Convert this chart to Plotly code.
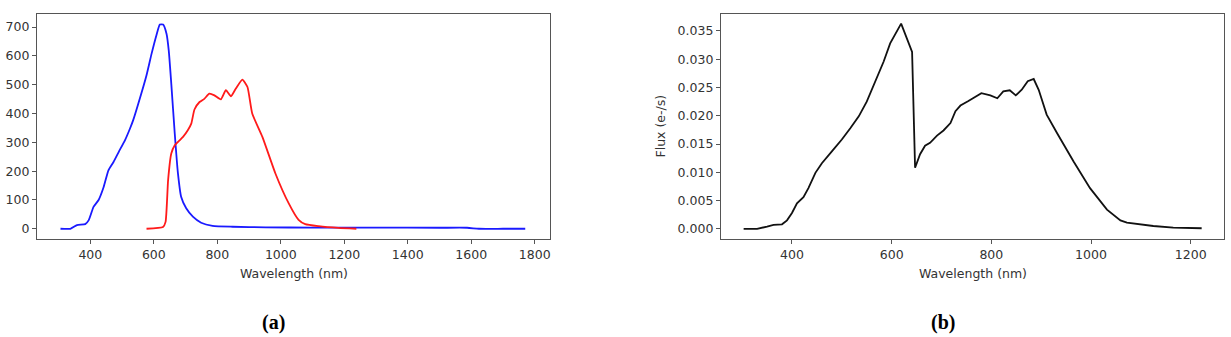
import plotly.graph_objects as go

# ---- data ----
blue_x = [306, 337, 358, 384, 395, 410, 426, 442, 457, 473, 490, 509, 525, 535, 551, 577, 593, 608, 619, 629,
          640, 647, 655, 666, 676, 686, 702, 723, 749, 785, 848, 952, 1100, 1300, 1500, 1587, 1624, 1700, 1770]
blue_y = [0, 0, 13, 16, 30, 76, 100, 145, 203, 232, 268, 307, 348, 377, 434, 533, 608, 671, 709, 709,
          677, 619, 504, 330, 192, 111, 71, 42, 21, 10, 7, 5, 4, 4, 3.5, 3.5, 0, 0, 0]

red_x = [577, 629, 637, 645, 655, 666, 681, 692, 707, 718, 728, 744, 759, 775, 791, 811, 827, 843, 858, 879,
         895, 910, 942, 983, 1025, 1056, 1077, 1119, 1181, 1238]
red_y = [0, 6, 24, 169, 261, 290, 307, 319, 342, 365, 414, 440, 451, 469, 463, 449, 481, 460, 486, 518,
         492, 400, 319, 192, 88, 31, 16, 9, 3, 0]

black_x = [303, 330, 350, 363, 380, 390, 400, 410, 423, 433, 447, 460, 480, 500, 517, 534, 550, 570, 584, 597,
           619, 641, 647, 657, 667, 677, 691, 704, 718, 728, 738, 754, 768, 780, 798, 812, 824, 837, 849, 861,
           873, 885, 895, 911, 932, 965, 998, 1032, 1059, 1072, 1125, 1165, 1222]
black_y = [0, 0, 0.0004, 0.0007, 0.0008, 0.0015, 0.0028, 0.0045, 0.0056, 0.0072, 0.0099, 0.0116, 0.0137,
           0.0158, 0.0178, 0.0199, 0.0225, 0.0266, 0.0296, 0.0328, 0.0363, 0.0313, 0.0108, 0.0132, 0.0147,
           0.0152, 0.0165, 0.0174, 0.0187, 0.0208, 0.0218, 0.0226, 0.0234, 0.0240, 0.0236, 0.0231, 0.0243,
           0.0245, 0.0236, 0.0246, 0.0261, 0.0265, 0.0246, 0.0202, 0.0169, 0.0119, 0.0072, 0.0034, 0.0015,
           0.0011, 0.0005, 0.0002, 0.0001]

a_xticks = [400, 600, 800, 1000, 1200, 1400, 1600, 1800]
a_yticks = [0, 100, 200, 300, 400, 500, 600, 700]
b_xticks = [400, 600, 800, 1000, 1200]
b_yticks = [0, 0.005, 0.010, 0.015, 0.020, 0.025, 0.030, 0.035]

x_title = "Wavelength (nm)"
y_title_b = "Flux (e-/s)"
captions = ["(a)", "(b)"]

W, H = 1231, 337
FONT = "DejaVu Sans"
TXT = "#333333"
SPINE = "#555555"

fig = go.Figure()
fig.add_trace(go.Scatter(x=blue_x, y=blue_y, mode="lines",
                         line=dict(color="#1a1aff", width=1.8, shape="spline", smoothing=0.5),
                         xaxis="x", yaxis="y", showlegend=False))
fig.add_trace(go.Scatter(x=red_x, y=red_y, mode="lines",
                         line=dict(color="#ff1a1a", width=1.8, shape="spline", smoothing=0.5),
                         xaxis="x", yaxis="y", showlegend=False))
fig.add_trace(go.Scatter(x=black_x, y=black_y, mode="lines", line=dict(color="#111111", width=1.8),
                         xaxis="x2", yaxis="y2", showlegend=False))

def px_x(p):
    return p / W

def px_y(p):
    return 1 - p / H

axis_common = dict(showgrid=False, zeroline=False, showline=True, linecolor=SPINE, linewidth=1.2,
                   mirror=True, ticks="outside", ticklen=4, tickwidth=1, tickcolor=SPINE,
                   tickfont=dict(family=FONT, size=12.5, color=TXT))

top, bottom = 14, 239
fig.update_layout(
    width=W, height=H, margin=dict(l=0, r=0, t=0, b=0),
    paper_bgcolor="white", plot_bgcolor="white",
    xaxis=dict(domain=[px_x(37), px_x(550)], range=[232, 1848], tickvals=a_xticks,
               anchor="y", **axis_common),
    yaxis=dict(domain=[px_y(bottom), px_y(top)], range=[-35.5, 745.5], tickvals=a_yticks,
               anchor="x", **axis_common),
    xaxis2=dict(domain=[px_x(721), px_x(1224)], range=[257.6, 1266.8], tickvals=b_xticks,
                anchor="y2", **axis_common),
    yaxis2=dict(domain=[px_y(bottom), px_y(top)], range=[-0.0018, 0.0380], tickvals=b_yticks,
                tickformat=".3f", anchor="x2", **axis_common),
)

ann = []
ann.append(dict(text=x_title, x=px_x((37 + 550) / 2), y=px_y(273), xref="paper", yref="paper",
                showarrow=False, font=dict(family=FONT, size=12.5, color=TXT), xanchor="center", yanchor="middle"))
ann.append(dict(text=x_title, x=px_x((721 + 1224) / 2), y=px_y(273), xref="paper", yref="paper",
                showarrow=False, font=dict(family=FONT, size=12.5, color=TXT), xanchor="center", yanchor="middle"))
ann.append(dict(text=y_title_b, x=px_x(660), y=px_y((top + bottom) / 2), xref="paper", yref="paper",
                showarrow=False, textangle=-90, font=dict(family=FONT, size=12.5, color=TXT),
                xanchor="center", yanchor="middle"))
ann.append(dict(text="<b>" + captions[0] + "</b>", x=px_x(273), y=px_y(322), xref="paper", yref="paper",
                showarrow=False, font=dict(family="Liberation Serif", size=20, color="#000000"),
                xanchor="center", yanchor="middle"))
ann.append(dict(text="<b>" + captions[1] + "</b>", x=px_x(943), y=px_y(322), xref="paper", yref="paper",
                showarrow=False, font=dict(family="Liberation Serif", size=20, color="#000000"),
                xanchor="center", yanchor="middle"))
fig.update_layout(annotations=ann)

fig.write_html("out.html")
